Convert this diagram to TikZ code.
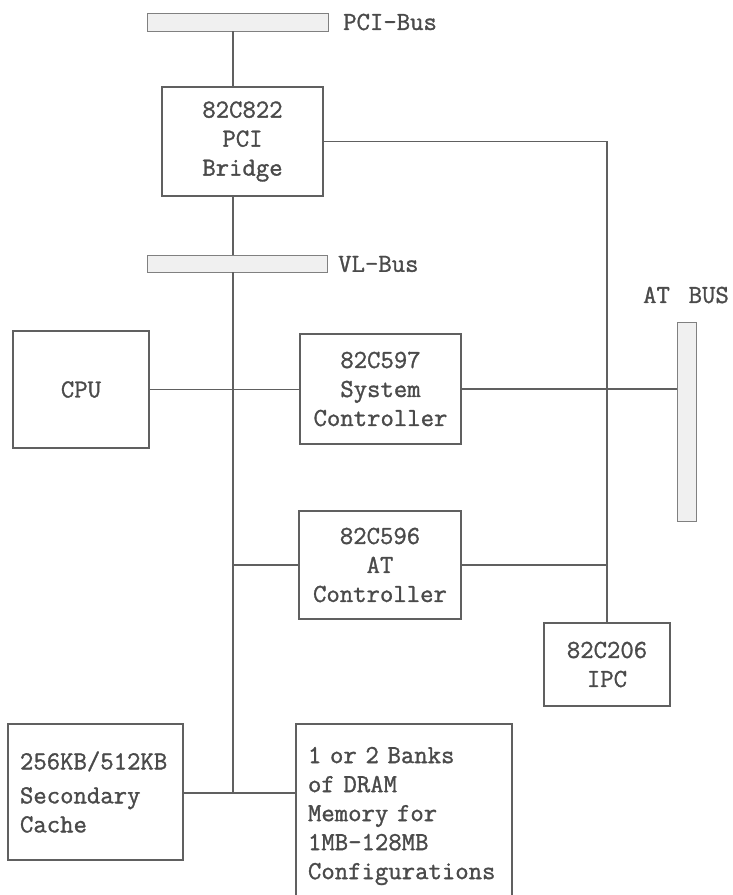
\documentclass[tikz,border=0pt]{standalone}
\usepackage{fontspec}
\setmonofont{lmmono12-regular.otf}[FakeBold=1.2,WordSpace=1.4]
\definecolor{ln}{HTML}{606060}
\definecolor{tx}{HTML}{4A4A4A}
\begin{document}
\begin{tikzpicture}[x=1pt,y=-1pt,
  every node/.style={text=tx,font=\fontsize{26}{29}\ttfamily},
  blk/.style={draw=ln,line width=1.1pt,rectangle,inner sep=0pt,align=center},
  blkl/.style={draw=ln,line width=1.1pt,rectangle,inner xsep=12pt,inner ysep=0pt,align=left},
  bus/.style={draw=ln!80,line width=0.9pt,fill=gray!12,rectangle,inner sep=0pt},
  lbl/.style={inner sep=0pt},
  wire/.style={draw=ln,line width=1.1pt}]
\clip (0,0) rectangle (733,895);
\fill[white] (0,0) rectangle (733,895);
% buses
\node[bus,minimum width=181pt,minimum height=18pt] (pcibus) at (237.5,22) {};
\node[lbl,anchor=west] (pcilbl) at (343,22) {PCI-Bus};
\node[bus,minimum width=180pt,minimum height=17pt] (vlbus) at (237,263.5) {};
\node[lbl,anchor=west] (vllbl) at (338,264) {VL-Bus};
\node[bus,minimum width=19pt,minimum height=199pt] (atbus) at (686.5,421.5) {};
\node[lbl] (atlbl) at (686,295) {AT BUS};
% blocks
\node[blk,minimum width=161pt,minimum height=109pt] (bridge) at (242.5,141.5) {82C822\\PCI\\Bridge};
\node[blk,minimum width=136pt,minimum height=117pt] (cpu) at (81,389.5) {CPU};
\node[blk,minimum width=161pt,minimum height=110pt] (sysctl) at (380.5,389) {82C597\\System\\Controller};
\node[blk,minimum width=162pt,minimum height=108pt] (atctl) at (380,565) {82C596\\AT\\Controller};
\node[blk,minimum width=126pt,minimum height=83pt] (ipc) at (607,664.5) {82C206\\IPC};
\node[blkl,text width=151pt,minimum height=136pt] (cache) at (95.5,792) {256KB/512KB\\[5pt]Secondary\\Cache};
\node[blkl,text width=192pt,minimum height=184pt] (dram) at (404,816) {1 or 2 Banks\\of DRAM\\Memory for\\1MB-128MB\\Configurations};
% junction
\coordinate (jmem) at (233,793);
% wires
\draw[wire] (pcibus.south -| jmem) -- (bridge.north -| jmem);
\draw[wire] (bridge.south -| jmem) -- (vlbus.north -| jmem);
\draw[wire] (vlbus.south -| jmem) -- (jmem);
\draw[wire] (cpu.east) -- (cpu.east -| sysctl.west);
\draw[wire] (sysctl.east) -- (sysctl.east -| atbus.west);
\draw[wire] (bridge.east) -| (ipc.north);
\draw[wire] (jmem |- atctl.west) -- (atctl.west);
\draw[wire] (atctl.east) -- (atctl.east -| ipc.north);
\draw[wire] (cache.east |- jmem) -- (jmem -| dram.west);
\end{tikzpicture}
\end{document}
